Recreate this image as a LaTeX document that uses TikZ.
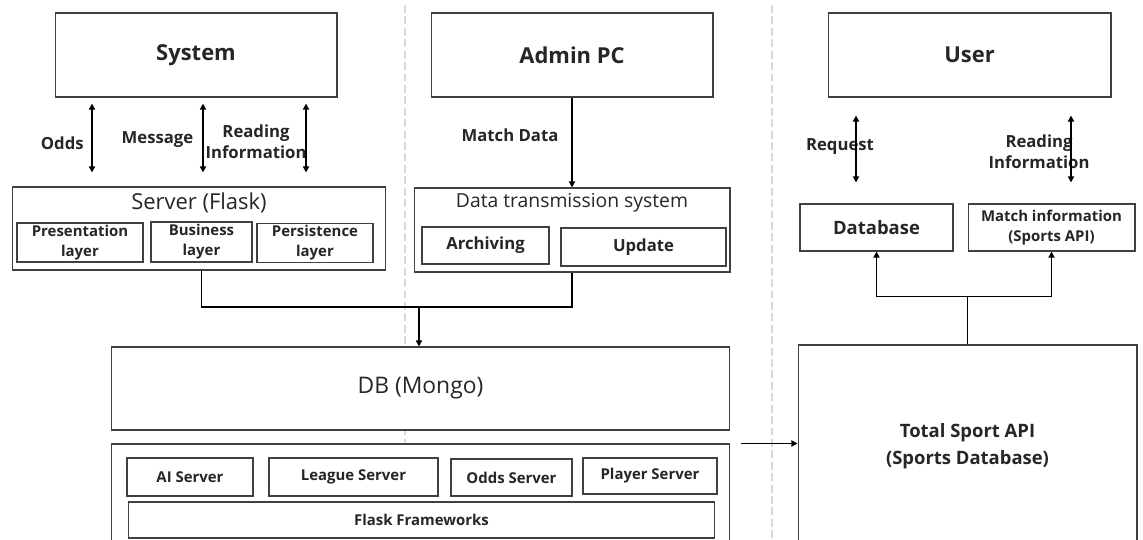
\documentclass[tikz,border=0pt]{standalone}
\usepackage{fontspec}
\setmainfont{Open Sans}
\usepackage{xcolor}
\usetikzlibrary{arrows.meta, positioning, calc}
\definecolor{txt}{HTML}{262626}
\definecolor{edge}{HTML}{404040}
\definecolor{sep}{HTML}{D9D9D9}

\begin{document}
\begin{tikzpicture}[
    x=0.02cm, y=-0.02cm,
    every node/.style={text=txt},
    box/.style={draw=edge, line width=0.6pt, fill=white, inner sep=1pt, align=center},
    big/.style={box, font=\bfseries\fontsize{12.5}{15}\selectfont,
                minimum width=5.64cm, minimum height=1.68cm},
    part/.style={box, font=\bfseries\fontsize{8.5}{11.5}\selectfont},
    lbl/.style={font=\bfseries\fontsize{9.5}{12}\selectfont, align=center, inner sep=0pt},
    ttl/.style={font=\fontsize{12.5}{15}\selectfont},
    arr/.style={-{Triangle[length=3.5pt,width=3.5pt]}, line width=1.1pt},
    darr/.style={{Triangle[length=3.5pt,width=3.5pt]}-{Triangle[length=3.5pt,width=3.5pt]}, line width=1.1pt},
    wire/.style={line width=1.1pt},
    sepline/.style={draw=sep, line width=0.8pt, dash pattern=on 4.5pt off 2pt}
  ]
  \useasboundingbox (0,0) rectangle (1143,540);
  \clip (0,0) rectangle (1143,540);

  % column separators
  \draw[sepline] (405,5) -- (405,540);
  \draw[sepline] (772,5) -- (772,540);

  \node[big] (system) at (196,55) {System};
  \node[big] (admin) at (572,55) {Admin PC};
  \node[big, minimum width=5.66cm] (user) at (969.5,55) {User};

  % server side
  \node[box, minimum width=7.48cm, minimum height=1.66cm,
        label={[ttl, anchor=north]north:Server (Flask)}] (server) at (199,228.5) {};
  \node[part, minimum width=2.52cm, minimum height=0.78cm] (pres) at (80,242.5) {Presentation\\layer};
  \node[part, minimum width=2.02cm, minimum height=0.80cm] (biz) at (201.5,242) {Business\\layer};
  \node[part, minimum width=2.32cm, minimum height=0.76cm] (pers) at (315,243) {Persistence\\layer};

  \node[box, minimum width=6.32cm, minimum height=1.68cm,
        label={[font=\fontsize{11}{13}\selectfont, anchor=north]north:Data transmission system}] (dts) at (572,230) {};
  \node[part, font=\bfseries\fontsize{9.5}{11}\selectfont, minimum width=2.54cm, minimum height=0.74cm] (arch) at (485.5,245.5) {Archiving};
  \node[part, font=\bfseries\fontsize{9.5}{11}\selectfont, minimum width=3.30cm, minimum height=0.76cm] (upd) at (643.5,247) {Update};

  \node[box, font=\fontsize{13}{15}\selectfont, minimum width=12.38cm, minimum height=1.66cm] (db) at (420.5,388.5) {DB (Mongo)};

  \node[box, minimum width=12.38cm, minimum height=2.32cm] (stack) at (420.5,502) {};
  \node[part, minimum width=2.52cm, minimum height=0.76cm] (ai) at (190,477) {AI Server};
  \node[part, minimum width=3.38cm, minimum height=0.76cm] (league) at (353.5,477) {League Server};
  \node[part, minimum width=2.42cm, minimum height=0.74cm] (odds) at (511.5,477.5) {Odds Server};
  \node[part, minimum width=2.68cm, minimum height=0.72cm] (player) at (650,476) {Player Server};
  \node[part, minimum width=11.74cm, minimum height=0.72cm] (fw) at (421.5,520) {Flask Frameworks};

  % user side
  \node[box, font=\bfseries\fontsize{10.5}{12}\selectfont, minimum width=3.06cm, minimum height=0.94cm] (dbase) at (876.5,227.5) {Database};
  \node[part, minimum width=3.34cm, minimum height=0.94cm] (minfo) at (1051.5,227.5) {Match information\\(Sports API)};
  \node[box, font=\bfseries\fontsize{10.5}{15.3}\selectfont, minimum width=6.78cm, minimum height=4.04cm] (total) at (967.5,446) {Total Sport API\\(Sports Database)};

  % labels
  \node[lbl, anchor=east] (oddsl) at (84,143) {Odds};
  \node[lbl] (msgl) at (157.5,140) {Message};
  \node[lbl] (readl) at (256,142) {Reading\\Information};
  \node[lbl] (matchl) at (510,135) {Match Data};
  \node[lbl] (reql) at (840,147) {Request};
  \node[lbl] (readul) at (1039,152) {Reading\\Information};

  % connectors
  \draw[darr] ($(system.south)+(-104,6)$) -- ($(server.north)+(-107,-14)$);
  \draw[darr] ($(system.south)+(7,6)$) -- ($(server.north)+(4,-14)$);
  \draw[darr] ($(system.south)+(110,6)$) -- ($(server.north)+(107,-14)$);
  \draw[arr] (admin.south) -- (dts.north);
  \draw[darr] ($(user.south)+(-113.5,18)$) -- ($(dbase.north)+(-20.5,-21)$);
  \draw[darr] ($(user.south)+(101.5,18)$) -- ($(minfo.north)+(19.5,-21)$);

  \coordinate (join) at (419,307);
  \draw[wire] (biz.south |- server.south) |- (join) -| (dts.south);
  \draw[arr] (join) -- (join |- db.north);

  \coordinate (split) at ($(total.north)+(0,-48)$);
  \draw[arr] (total.north) -- (split) -| (dbase.south);
  \draw[arr] (split) -| (minfo.south);
  \draw[arr] ($(stack.north east)+(11,0)$) -- (stack.north east -| total.west);
\end{tikzpicture}
\end{document}
